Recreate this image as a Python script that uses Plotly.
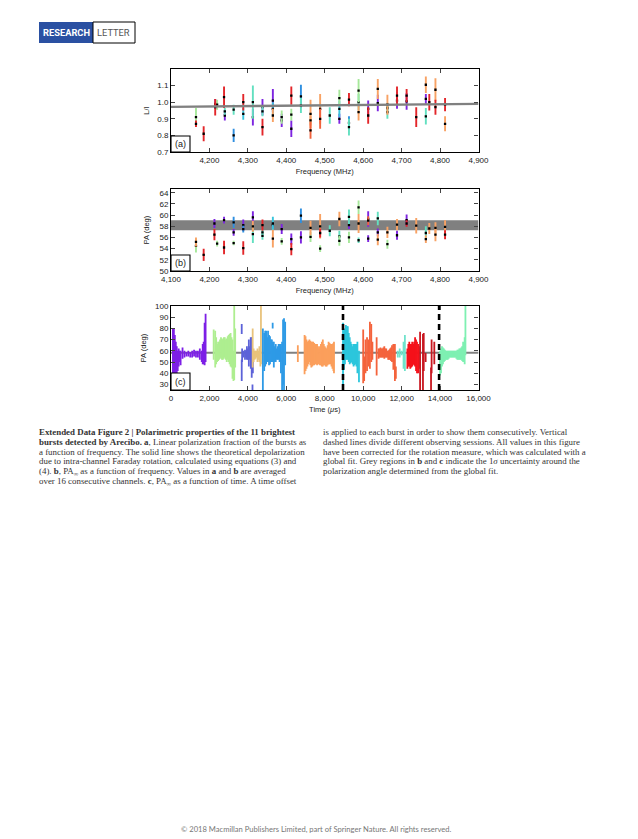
import plotly.graph_objects as go

W, H = 638, 839

COL = {"P": "#7d25e0", "B": "#2f8fe0", "C": "#38c4dc", "T": "#62e0c0",
       "G": "#a6e89a", "O": "#f8a264", "R": "#e3262a", "N": "#f0623c"}

# Panel a: L/I
a_freq = [4165,4165,4185,4215,4215,4220,4238,4240,4240,4263,4263,4288,4288,4313,4313,4338,4338,4338,
          4365,4365,4365,4388,4388,4413,4413,4413,4438,4438,4463,4463,4463,4488,4488,4513,4538,4538,4538,
          4563,4563,4563,4588,4588,4588,4613,4613,4638,4638,4663,4663,4663,4688,4688,4713,4713,4738,
          4763,4763,4763,4772,4788,4788,4813,4813]
a_val = [0.91,0.87,0.81,0.97,0.99,0.985,1.03,0.92,0.945,0.80,0.955,1.00,0.93,1.00,0.91,0.85,0.97,0.945,
         1.01,0.92,0.96,0.91,0.89,1.04,0.84,0.925,1.035,0.98,0.93,0.83,0.89,0.96,0.90,0.92,1.025,0.96,0.90,
         1.015,0.875,0.85,1.07,0.94,1.00,0.96,0.92,1.08,0.995,0.985,0.94,0.965,1.04,1.01,1.04,1.005,0.91,
         1.105,1.02,0.915,1.00,1.075,0.97,0.985,0.87]
a_err = [0.055,0.02,0.045,0.05,0.03,0.03,0.065,0.03,0.02,0.04,0.03,0.05,0.035,0.10,0.05,0.05,0.05,0.03,
         0.07,0.04,0.04,0.04,0.04,0.055,0.05,0.035,0.07,0.045,0.085,0.05,0.03,0.09,0.06,0.05,0.05,0.05,0.03,
         0.04,0.04,0.05,0.07,0.05,0.05,0.05,0.05,0.06,0.05,0.06,0.04,0.03,0.055,0.05,0.04,0.05,0.06,
         0.05,0.03,0.05,0.05,0.07,0.045,0.04,0.045]
a_col = list("GRRRPGRPTBTRCTPRPT" "POCGPRPG" "BT" "ONO" "ON" "T" "GCP" "RBT" "GOT" "PR" "OP" "OTT" "RP" "RP" "R" "OPT" "R" "OR" "RO")

# Panel b: PA
b_freq = [4165,4165,4185,4213,4213,4220,4238,4238,4263,4263,4263,4288,4288,4288,4313,4313,4313,4338,4338,4338,
          4365,4365,4365,4388,4388,4413,4413,4438,4438,4463,4463,4488,4488,4488,4513,4538,4538,4538,
          4563,4563,4563,4588,4588,4588,4613,4613,4613,4638,4638,4638,4663,4663,4688,4688,4713,4713,4738,
          4763,4763,4772,4788,4788,4813,4813]
b_val = [54.5,55.2,52.9,58.5,56.5,54.9,59.1,54.2,58.7,56.9,55.0,58.2,54.1,57.5,59.6,58.0,56.6,58.2,56.9,56.3,
         58.5,55.8,58.2,57.5,55.3,55.7,53.9,59.9,56.0,57.7,56.1,58.0,56.8,54.0,57.2,59.3,56.2,55.4,
         59.7,58.2,56.0,61.4,58.5,55.5,59.3,59.0,55.8,59.4,56.9,55.6,56.9,54.8,58.3,56.4,59.1,58.5,58.1,
         56.8,55.7,57.6,57.7,56.5,57.9,56.5]
b_err = [1.2,0.8,1.1,0.8,1.0,0.5,0.6,1.2,1.0,0.6,0.4,1.0,1.2,0.6,1.1,1.0,1.6,1.0,0.5,0.7,
         1.2,1.6,0.5,0.9,0.6,1.0,1.1,1.3,1.1,1.3,0.9,2.2,0.8,0.6,1.0,1.3,1.0,0.9,
         1.3,0.7,1.0,1.2,1.7,0.5,1.4,0.8,0.6,1.2,0.7,1.0,1.0,0.8,1.0,0.8,1.0,0.6,1.4,
         1.2,0.7,1.0,1.0,1.2,1.2,0.8]
b_col = list("GOR" "PR" "G" "PR" "BPG" "PRB" "POT" "RTT" "COB" "PG" "PR" "BP" "OG" "ORG" "T" "OTG" "TPG" "GOT" "PNP" "TPO" "OG" "OP" "PR" "O" "TO" "O" "OO" "OR")

# Grey fits
fit_x = [4100, 4300, 4500, 4700, 4900]
fit_y = [0.972, 0.977, 0.982, 0.986, 0.990]
pa_lo, pa_hi = 57.3, 59.1

# Panel c: burst envelopes (time, low, high)
b1_t = [100,150,200,250,300,350,400,450,500,600,700,800,900,1000,1100,1200,1300,1400,1500,1600,1650,1700,1750,1800]
b1_lo = [40,28,25,30,38,42,46,50,47,53,54,55,55,54,54,55,54,54,52,50,48,48,47,50]
b1_hi = [80,80,74,68,64,60,62,60,60,63,60,59,60,59,60,61,60,60,62,60,66,68,85,93]
b2_t = [2220,2300,2350,2400,2450,2500,2550,2600,2650,2700,2750,2800,2850,2900,2950,3000,3050,3100,3150,3200,3250,3290,3340]
b2_lo = [52,45,48,50,51,52,53,54,52,52,53,54,52,50,52,50,48,46,45,35,33,34,45]
b2_hi = [79,78,72,66,68,68,70,72,71,70,72,72,70,71,73,74,75,76,72,70,60,100,80]
b3_t = [3680,3680,3700,3780,3850,3900,3950,4000,4050,4100,4150,4200,4240,4260]
b3_lo = [75,33,50,54,52,54,52,52,46,52,44,36,25,40]
b3_hi = [84,52,62,60,61,60,64,62,70,64,72,72,30,58]
b4_t = [4250,4300,4350,4400,4450,4500,4550,4600,4650,4680]
b4_lo = [45,50,52,53,54,50,52,50,46,48]
b4_hi = [80,62,60,60,60,62,60,64,60,100]
b5_t = [4780,4850,4900,4950,5000,5050,5100,5150,5200,5250,5290,5300,5350,5400,5450,5500,5550,5600,5650,5700,5720,5780,5830,5880,5940]
b5_lo = [25,42,46,48,50,50,47,48,50,50,80,50,45,50,50,52,52,52,50,50,40,25,30,25,47]
b5_hi = [80,76,78,78,72,78,74,73,70,70,85,68,68,64,66,62,64,66,66,64,66,68,88,89,86]
b6_t = [6600,6950,7000,7050,7100,7150,7200,7250,7300,7350,7400,7450,7500,7550,7600,7650,7700,7750,7800,7850,7900,7950,8000,8050,8100,8150,8200,8250,8300,8350,8400,8450,8480]
b6_lo = [50,39,42,44,46,48,50,47,45,46,47,47,48,48,47,48,48,47,47,46,46,47,47,46,46,47,48,48,48,46,44,42,40]
b6_hi = [65,74,73,70,68,69,70,69,68,68,68,67,66,66,66,64,62,64,66,68,70,66,64,63,62,65,68,67,66,66,66,67,68]
b7_t = [8950,9000,9050,9100,9150,9200,9250,9300,9350,9400,9450,9500,9550,9600,9650,9700,9780]
b7_lo = [25,43,48,52,52,52,50,48,49,50,48,46,47,48,46,40,32]
b7_hi = [85,78,80,83,82,82,76,72,68,66,64,66,66,66,66,68,60]
b8_t = [10000,10050,10120,10200,10280,10350,10420,10480,10700,10800,10850,10900,10950,11000,11050,11100,11150,11200,11250,11300,11350,11400,11450,11500,11570,11650,11700]
b8_lo = [31,33,40,42,46,44,50,52,38,53,54,54,54,54,54,53,54,54,54,52,52,52,51,50,43,33,35]
b8_hi = [79,55,70,72,70,86,84,68,72,62,62,63,62,62,63,64,62,62,60,60,61,62,63,65,66,66,46]
b9_t = [11800,11900,12000,12100,12170]
b9_lo = [54,54,56,44,42]
b9_hi = [60,62,60,68,74]
b10_t = [12300,12350,12400,12450,12500,12550,12600,12650,12700,12750,12800,12860,12900]
b10_lo = [44,46,46,44,45,46,48,47,46,42,40,40,44]
b10_hi = [62,66,68,66,66,68,66,68,72,70,68,66,64]
b10d_t = [12960,13110,13150,13250,13530,13560,13700]
b10d_lo = [25,25,42,50,25,40,48]
b10d_hi = [77,75,76,58,45,70,68]
b11_t = [14000,14050,14100,14150,14200,14250,14300,14350,14400,14450,14500,14550,14600,14650,14700,14750,14800,14850,14900,14950,15000,15050,15100,15150,15200,15280,15320]
b11_lo = [38,40,46,48,50,51,52,52,52,53,54,54,54,54,54,54,54,53,52,52,52,52,52,51,50,48,56]
b11_hi = [60,62,64,63,62,61,60,60,60,60,60,60,60,60,60,60,60,60,61,61,62,62,63,64,68,72,100]
bursts = [(b1_t,b1_lo,b1_hi,"#7d1fe6"),(b2_t,b2_lo,b2_hi,"#aeee90"),(b3_t,b3_lo,b3_hi,"#5c62d8"),
          (b4_t,b4_lo,b4_hi,"#e9c37c"),(b5_t,b5_lo,b5_hi,"#2e9ae6"),(b6_t,b6_lo,b6_hi,"#fb9f5c"),
          (b7_t,b7_lo,b7_hi,"#2cc6dc"),(b8_t,b8_lo,b8_hi,"#f4633c"),(b9_t,b9_lo,b9_hi,"#70e2cc"),
          (b10_t,b10_lo,b10_hi,"#f5111a"),(b10d_t,b10d_lo,b10d_hi,"#c8161f"),(b11_t,b11_lo,b11_hi,"#7ef0b2")]
session_breaks = [8950, 13950]

caption_left = [
    "<b>Extended Data Figure 2 | Polarimetric properties of the 11 brightest</b>",
    "<b>bursts detected by Arecibo. a</b>, Linear polarization fraction of the bursts as",
    "a function of frequency. The solid line shows the theoretical depolarization",
    "due to intra-channel Faraday rotation, calculated using equations (3) and",
    "(4). <b>b</b>, PA<sub>∞</sub> as a function of frequency. Values in <b>a</b> and <b>b</b> are averaged",
    "over 16 consecutive channels. <b>c</b>, PA<sub>∞</sub> as a function of time. A time offset",
]
caption_right = [
    "is applied to each burst in order to show them consecutively. Vertical",
    "dashed lines divide different observing sessions. All values in this figure",
    "have been corrected for the rotation measure, which was calculated with a",
    "global fit. Grey regions in <b>b</b> and <b>c</b> indicate the 1<i>σ</i> uncertainty around the",
    "polarization angle determined from the global fit.",
]
footer = "© 2018 Macmillan Publishers Limited, part of Springer Nature. All rights reserved."

a_xticks = [4200,4300,4400,4500,4600,4700,4800,4900]
a_yticks = [0.7,0.8,0.9,1.0,1.1]
b_yticks = [50,52,54,56,58,60,62,64]

FONT = "Liberation Sans"
def px(x): return x / W
def py(y): return 1 - y / H

fig = go.Figure()

def points(axis, freq, val, err, col):
    for key, colour in COL.items():
        idx = [i for i, c in enumerate(col) if c == key]
        if not idx:
            continue
        fig.add_trace(go.Scatter(
            x=[freq[i] for i in idx], y=[val[i] for i in idx], xaxis="x" + axis, yaxis="y" + axis,
            mode="markers", marker=dict(color="black", size=2.3, symbol="square"),
            error_y=dict(type="data", array=[err[i] for i in idx], color=colour, thickness=1.9, width=0),
            showlegend=False))

points("", a_freq, a_val, a_err, a_col)
fig.add_trace(go.Scatter(x=fit_x, y=fit_y, mode="lines", line=dict(color="#808080", width=2.4), showlegend=False))
points("2", b_freq, b_val, b_err, b_col)

# Panel c
for t, lo, hi, colour in bursts:
    xs, ys = [], []
    for ti, l, h in zip(t, lo, hi):
        xs += [ti, ti, None]
        ys += [l, h, None]
    fig.add_trace(go.Scatter(x=xs, y=ys, xaxis="x3", yaxis="y3", mode="lines",
                             line=dict(color=colour, width=1.8), showlegend=False))
for s in session_breaks:
    fig.add_trace(go.Scatter(x=[s, s], y=[25, 100], xaxis="x3", yaxis="y3", mode="lines",
                             line=dict(color="black", width=2.6, dash="6px,4px"), showlegend=False))

def xaxis(anchor, rng, dtick, title):
    return dict(domain=[px(171), px(478.5)], anchor=anchor, range=rng, dtick=dtick, tickformat=",d",
                ticks="inside", ticklen=4, tickwidth=1, mirror="ticks", showline=True, linecolor="black", linewidth=1.1,
                showgrid=False, zeroline=False, tickfont=dict(family=FONT, size=8, color="#222"),
                title=dict(text=title, standoff=5, font=dict(family=FONT, size=7.5, color="#222")), automargin=False)

def yaxis(dom, rng, dtick, title, fmt, tick0, standoff):
    return dict(domain=[py(dom[1]), py(dom[0])], range=rng, dtick=dtick, tick0=tick0, tickformat=fmt,
                ticks="inside", ticklen=4, tickwidth=1, mirror="ticks", showline=True, linecolor="black", linewidth=1.1,
                showgrid=False, zeroline=False, tickfont=dict(family=FONT, size=8, color="#222"),
                title=dict(text=title, standoff=standoff, font=dict(family=FONT, size=7.5, color="#222")), automargin=False)

xa1 = xaxis("y", [4100, 4900], 100, "Frequency (MHz)")
xa1["tickmode"] = "array"; xa1["tickvals"] = a_xticks
ya1 = yaxis((69, 152), [0.7, 1.2], 0.1, "L/I", ".1f", 0.7, 6)
ya1["tickmode"] = "array"; ya1["tickvals"] = a_yticks
ya2 = yaxis((189, 271), [50, 64.67], 2, "PA (deg)", "d", 50, 8)
ya2["tickmode"] = "array"; ya2["tickvals"] = b_yticks
fig.update_layout(
    width=W, height=H, margin=dict(l=0, r=0, t=0, b=0), paper_bgcolor="white", plot_bgcolor="white",
    showlegend=False,
    xaxis=xa1, yaxis=ya1,
    xaxis2=xaxis("y2", [4100, 4900], 100, "Frequency (MHz)"), yaxis2=ya2,
    xaxis3=xaxis("y3", [0, 16000], 2000, "Time (<i>μ</i>s)"),
    yaxis3=yaxis((306, 390), [25, 100], 10, "PA (deg)", "d", 30, 7),
)

# Grey regions
fig.add_shape(type="rect", xref="x2", yref="y2", x0=4100, x1=4900, y0=pa_lo, y1=pa_hi,
              fillcolor="#808080", line_width=0, layer="below")
fig.add_shape(type="rect", xref="x3", yref="y3", x0=0, x1=16000, y0=pa_lo, y1=pa_hi,
              fillcolor="#808080", line_width=0, layer="below")

# Panel labels
for lab, top, bottom in (("(a)", 136, 152), ("(b)", 255, 271), ("(c)", 373, 390)):
    fig.add_shape(type="rect", xref="paper", yref="paper", x0=px(171), x1=px(190), y0=py(bottom), y1=py(top),
                  fillcolor="white", line=dict(color="black", width=1.1), layer="above")
    fig.add_annotation(text=lab, xref="paper", yref="paper", x=px(180.5), y=py((top + bottom) / 2), showarrow=False,
                       font=dict(family=FONT, size=9, color="#222"), xanchor="center", yanchor="middle")

# Header badge
fig.add_shape(type="rect", xref="paper", yref="paper", x0=px(39), x1=px(93), y0=py(43), y1=py(22),
              fillcolor="#2a50a2", line_width=0)
fig.add_shape(type="rect", xref="paper", yref="paper", x0=px(93), x1=px(135), y0=py(43), y1=py(22),
              fillcolor="white", line=dict(color="black", width=1))
fig.add_annotation(text="<b>RESEARCH</b>", xref="paper", yref="paper", x=px(66), y=py(32.5), showarrow=False,
                   xanchor="center", yanchor="middle", font=dict(family="Roboto", size=9.3, color="white"))
fig.add_annotation(text="LETTER", xref="paper", yref="paper", x=px(114), y=py(32.5), showarrow=False,
                   xanchor="center", yanchor="middle", font=dict(family="Roboto", size=9.3, color="#555"))

# Caption
SERIF = "Liberation Serif"
for x0, lines in ((37, caption_left), (321, caption_right)):
    for i, line in enumerate(lines):
        fig.add_annotation(text=line, xref="paper", yref="paper", x=px(x0), y=py(431.5 + i * 10), showarrow=False,
                           xanchor="left", yanchor="middle", align="left",
                           font=dict(family=SERIF, size=8.9, color="#333"))
fig.add_annotation(text=footer, xref="paper", yref="paper", x=px(316), y=py(829), showarrow=False,
                   xanchor="center", yanchor="middle", font=dict(family="Lato", size=7.6, color="#777"))

fig.write_html("out.html", post_script="document.body.style.margin='0';", config={"displayModeBar": False})
